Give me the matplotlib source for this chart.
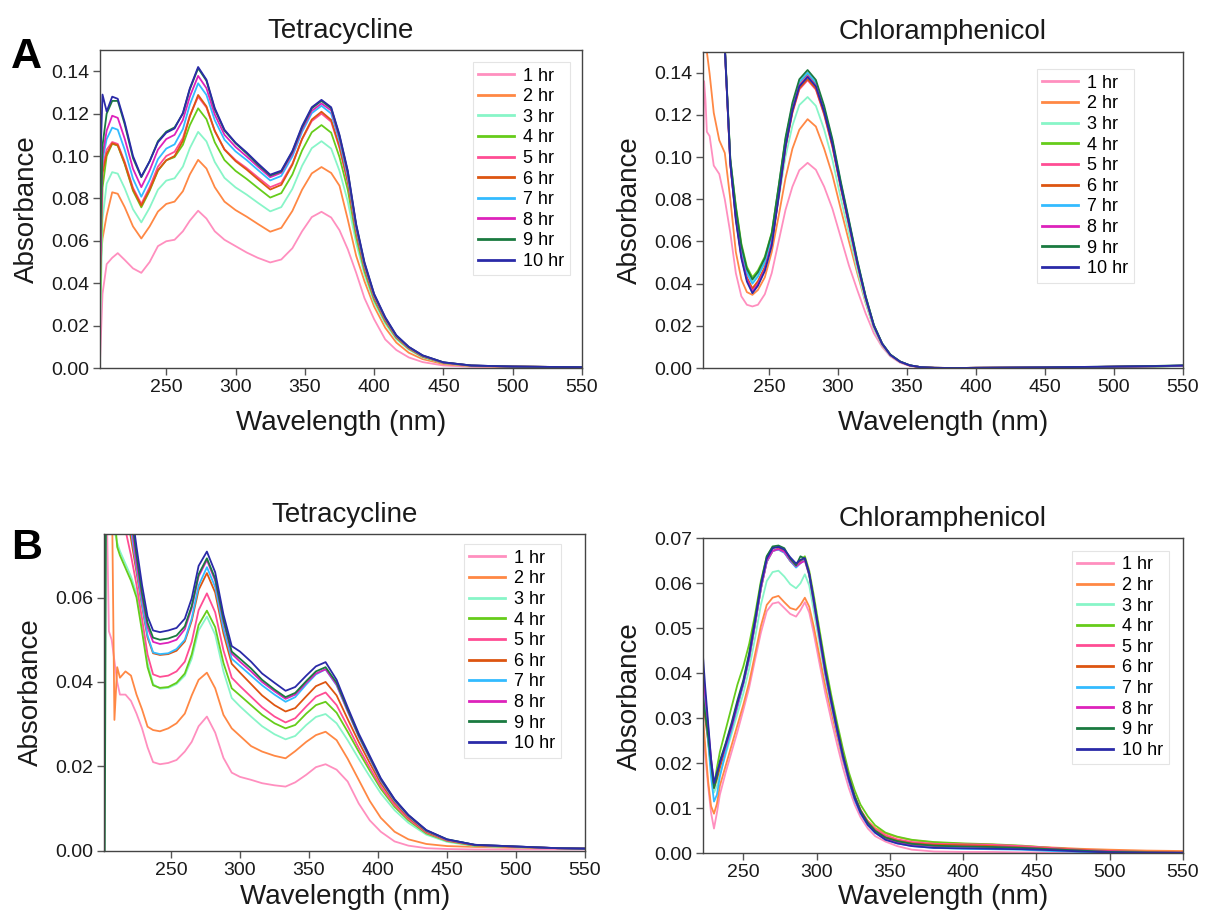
import matplotlib
matplotlib.use("Agg")
import matplotlib.pyplot as plt
from matplotlib.ticker import FormatStrFormatter

plt.rcParams['font.family'] = ['Liberation Sans', 'DejaVu Sans']

hours = ['1 hr', '2 hr', '3 hr', '4 hr', '5 hr', '6 hr', '7 hr', '8 hr', '9 hr', '10 hr']
colors = ['#ff8fbf', '#ff8844', '#88f5c8', '#66cc1a', '#ff4d94',
          '#dd5511', '#33bbff', '#dd22bb', '#1a7a40', '#2a2aa8']

# --- A, tetracycline ---
tc_a_wl = [202, 204, 207, 211, 215, 220, 226, 232, 238, 244, 250, 256, 262, 267, 273, 279,
           285, 292, 300, 308, 316, 325, 333, 341, 348, 355, 362, 369, 375, 381, 387, 393,
           400, 408, 416, 425, 435, 450, 470, 500, 530, 550]
tc_a_abs = [
    [0.000, 0.035, 0.049, 0.052, 0.0542, 0.051, 0.047, 0.0449, 0.050, 0.0575, 0.0598, 0.0605, 0.0645, 0.0695,
     0.0742, 0.0705, 0.0645, 0.0605, 0.0575, 0.0545, 0.052, 0.0498, 0.0512, 0.0565, 0.0645, 0.0712, 0.0737,
     0.071, 0.065, 0.056, 0.045, 0.033, 0.023, 0.0135, 0.0085, 0.005, 0.0028, 0.0012, 0.0006, 0.0004, 0.0003, 0.0003],
    [0.045, 0.061, 0.072, 0.0829, 0.0822, 0.0759, 0.0668, 0.0611, 0.0668, 0.0738, 0.0774, 0.0785, 0.0834, 0.0913,
     0.0982, 0.0941, 0.0853, 0.0785, 0.0745, 0.0714, 0.068, 0.0643, 0.0661, 0.0741, 0.0841, 0.0918, 0.0948,
     0.092, 0.086, 0.070, 0.053, 0.041, 0.029, 0.019, 0.012, 0.0072, 0.0042, 0.0019, 0.0009, 0.0006, 0.0005, 0.0004],
    [0.012, 0.070, 0.087, 0.0924, 0.0917, 0.0848, 0.0749, 0.0687, 0.0756, 0.0841, 0.0884, 0.0895, 0.095, 0.1037,
     0.1114, 0.1069, 0.0972, 0.0897, 0.0852, 0.0818, 0.078, 0.0739, 0.0759, 0.0845, 0.0954, 0.1037, 0.107,
     0.1035, 0.093, 0.0785, 0.059, 0.0442, 0.031, 0.021, 0.0136, 0.0087, 0.005, 0.0023, 0.001, 0.0007, 0.0005, 0.0004],
    [0.020, 0.085, 0.100, 0.1058, 0.1049, 0.0962, 0.0836, 0.0758, 0.0836, 0.0931, 0.098, 0.0995, 0.1053, 0.1145,
     0.1225, 0.1174, 0.1065, 0.0981, 0.093, 0.0892, 0.085, 0.0804, 0.0825, 0.0913, 0.1026, 0.1112, 0.1146,
     0.111, 0.0995, 0.084, 0.062, 0.0458, 0.0322, 0.0219, 0.0142, 0.0091, 0.0053, 0.0024, 0.0011, 0.0007, 0.0005, 0.0004],
    [0.037, 0.095, 0.103, 0.1066, 0.1057, 0.0973, 0.085, 0.0774, 0.0853, 0.095, 0.100, 0.102, 0.1085, 0.119,
     0.128, 0.1229, 0.1118, 0.1032, 0.0981, 0.0943, 0.090, 0.0853, 0.0874, 0.0964, 0.1079, 0.1165, 0.120,
     0.1162, 0.1038, 0.0875, 0.064, 0.0472, 0.0331, 0.0225, 0.0146, 0.0093, 0.0055, 0.0025, 0.0011, 0.0007, 0.0005, 0.0004],
    [0.060, 0.092, 0.101, 0.106, 0.1051, 0.0966, 0.0842, 0.0766, 0.0841, 0.0933, 0.098, 0.100, 0.1072, 0.1187,
     0.1288, 0.1234, 0.1119, 0.103, 0.0976, 0.0936, 0.0891, 0.0842, 0.0864, 0.0959, 0.1081, 0.1172, 0.1209,
     0.117, 0.1045, 0.088, 0.0645, 0.0475, 0.0333, 0.0227, 0.0147, 0.0094, 0.0055, 0.0025, 0.0011, 0.0007, 0.0005, 0.0004],
    [0.070, 0.098, 0.108, 0.1134, 0.1124, 0.103, 0.0893, 0.0808, 0.0887, 0.0985, 0.1035, 0.1055, 0.1127, 0.1242,
     0.1343, 0.1288, 0.1169, 0.1077, 0.1022, 0.0981, 0.0935, 0.0885, 0.0906, 0.0998, 0.1114, 0.1202, 0.1237,
     0.120, 0.107, 0.090, 0.066, 0.0485, 0.034, 0.0232, 0.015, 0.0097, 0.0057, 0.0026, 0.0012, 0.0007, 0.0005, 0.0004],
    [0.035, 0.100, 0.112, 0.119, 0.118, 0.1082, 0.094, 0.0853, 0.0932, 0.103, 0.108, 0.110, 0.117, 0.128,
     0.1378, 0.132, 0.1196, 0.110, 0.1043, 0.0998, 0.0951, 0.090, 0.0921, 0.1011, 0.1126, 0.1213, 0.1248,
     0.1215, 0.1085, 0.0915, 0.067, 0.049, 0.0343, 0.0234, 0.0151, 0.0098, 0.0058, 0.0026, 0.0012, 0.0007, 0.0005, 0.0004],
    [0.047, 0.105, 0.120, 0.126, 0.126, 0.115, 0.099, 0.090, 0.0975, 0.107, 0.1115, 0.1135, 0.120, 0.1315,
     0.1414, 0.1355, 0.122, 0.112, 0.106, 0.1012, 0.096, 0.0908, 0.0927, 0.102, 0.1135, 0.1225, 0.126,
     0.1225, 0.1095, 0.0925, 0.0675, 0.0495, 0.0347, 0.0237, 0.0153, 0.0099, 0.0059, 0.0027, 0.0012, 0.0007, 0.0005, 0.0004],
    [0.088, 0.129, 0.121, 0.128, 0.127, 0.116, 0.100, 0.0903, 0.0975, 0.1065, 0.111, 0.113, 0.1203, 0.1319,
     0.142, 0.136, 0.1226, 0.1124, 0.1063, 0.1017, 0.0966, 0.0912, 0.0931, 0.1024, 0.1141, 0.123, 0.1265,
     0.123, 0.110, 0.093, 0.068, 0.050, 0.035, 0.024, 0.0155, 0.010, 0.006, 0.0027, 0.0012, 0.0007, 0.0005, 0.0004],
]

# --- A, chloramphenicol ---
cm_a_wl = [202, 203, 204, 205, 207, 210, 214, 218, 222, 226, 230, 234, 238, 242, 247, 252, 257, 262,
           267, 272, 278, 284, 290, 296, 302, 308, 314, 320, 326, 332, 338, 345, 352, 360, 370, 385,
           400, 450, 500, 530, 550]
cm_a_abs = [
    [0.088, 0.136, 0.127, 0.112, 0.110, 0.096, 0.092, 0.080, 0.064, 0.045, 0.034, 0.030, 0.0292, 0.030,
     0.035, 0.045, 0.060, 0.075, 0.086, 0.0938, 0.0973, 0.094, 0.086, 0.0755, 0.062, 0.0485, 0.037, 0.026,
     0.0165, 0.010, 0.0055, 0.0025, 0.001, 0.0003, 0.0001, 0.0, 0.0001, 0.0003, 0.0006, 0.0008, 0.0010],
    [0.20, 0.20, 0.160, 0.150, 0.1395, 0.121, 0.108, 0.102, 0.080, 0.055, 0.042, 0.036, 0.0347, 0.037,
     0.043, 0.055, 0.072, 0.090, 0.104, 0.113, 0.118, 0.1145, 0.104, 0.0915, 0.0755, 0.060, 0.045, 0.031,
     0.019, 0.011, 0.006, 0.003, 0.0012, 0.0004, 0.0001, 0.0, 0.0001, 0.0003, 0.0006, 0.0008, 0.0010],
    [0.20, 0.20, 0.20, 0.20, 0.20, 0.20, 0.20, 0.152, 0.098, 0.075, 0.057, 0.046, 0.041, 0.044,
     0.0499, 0.0603, 0.0799, 0.1003, 0.1149, 0.1247, 0.1285, 0.1243, 0.1131, 0.0987, 0.0806, 0.0637, 0.0465, 0.0312,
     0.0186, 0.0107, 0.0058, 0.0028, 0.0012, 0.0004, 0.0001, 0.0, 0.0001, 0.0002, 0.0005, 0.0007, 0.0009],
    [0.20, 0.20, 0.20, 0.20, 0.20, 0.20, 0.20, 0.153, 0.099, 0.077, 0.059, 0.048, 0.043, 0.0463,
     0.0528, 0.0642, 0.0858, 0.1084, 0.1244, 0.1353, 0.1395, 0.1349, 0.1228, 0.1071, 0.0875, 0.0692, 0.0505, 0.0339,
     0.0202, 0.0116, 0.0063, 0.0031, 0.0013, 0.0004, 0.0001, 0.0, 0.0001, 0.0003, 0.0006, 0.0008, 0.0010],
    [0.20, 0.20, 0.20, 0.20, 0.20, 0.20, 0.20, 0.152, 0.097, 0.071, 0.053, 0.042, 0.037, 0.0404,
     0.0471, 0.0589, 0.0812, 0.1045, 0.121, 0.1321, 0.1365, 0.132, 0.1201, 0.1048, 0.0856, 0.0677, 0.0494, 0.0332,
     0.0198, 0.0113, 0.0061, 0.003, 0.0012, 0.0004, 0.0001, 0.0, 0.0001, 0.0003, 0.0006, 0.0009, 0.0011],
    [0.20, 0.20, 0.20, 0.20, 0.20, 0.20, 0.20, 0.152, 0.097, 0.072, 0.054, 0.043, 0.0378, 0.0412,
     0.0479, 0.0596, 0.0818, 0.105, 0.1215, 0.1326, 0.137, 0.1325, 0.1206, 0.1052, 0.0859, 0.068, 0.0496, 0.0333,
     0.0199, 0.0114, 0.0062, 0.003, 0.0012, 0.0004, 0.0001, 0.0, 0.0001, 0.0002, 0.0006, 0.0008, 0.0010],
    [0.20, 0.20, 0.20, 0.20, 0.20, 0.20, 0.20, 0.152, 0.098, 0.074, 0.056, 0.045, 0.040, 0.0434,
     0.0502, 0.062, 0.0844, 0.1078, 0.1244, 0.1356, 0.140, 0.1354, 0.1232, 0.1075, 0.0878, 0.0694, 0.0507, 0.034,
     0.0203, 0.0116, 0.0063, 0.0031, 0.0013, 0.0004, 0.0001, 0.0, 0.0001, 0.0003, 0.0006, 0.0008, 0.0010],
    [0.20, 0.20, 0.20, 0.20, 0.20, 0.20, 0.20, 0.152, 0.097, 0.071, 0.053, 0.042, 0.0363, 0.0398,
     0.0467, 0.0588, 0.0817, 0.1056, 0.1226, 0.134, 0.1385, 0.1339, 0.1219, 0.1064, 0.0868, 0.0687, 0.0501, 0.0337,
     0.0201, 0.0115, 0.0062, 0.003, 0.0012, 0.0004, 0.0001, 0.0, 0.0001, 0.0003, 0.0006, 0.0009, 0.0011],
    [0.20, 0.20, 0.20, 0.20, 0.20, 0.20, 0.20, 0.153, 0.099, 0.076, 0.058, 0.047, 0.042, 0.0454,
     0.0521, 0.0638, 0.0861, 0.1093, 0.1258, 0.1369, 0.1413, 0.1366, 0.1243, 0.1085, 0.0886, 0.0701, 0.0512, 0.0343,
     0.0205, 0.0117, 0.0064, 0.0031, 0.0013, 0.0004, 0.0001, 0.0, 0.0001, 0.0003, 0.0007, 0.0010, 0.0013],
    [0.20, 0.20, 0.20, 0.20, 0.20, 0.20, 0.20, 0.152, 0.097, 0.070, 0.052, 0.041, 0.0355, 0.039,
     0.046, 0.058, 0.081, 0.105, 0.122, 0.1335, 0.138, 0.1335, 0.1215, 0.106, 0.0865, 0.0685, 0.050, 0.0335,
     0.020, 0.0115, 0.0062, 0.003, 0.0013, 0.0004, 0.0001, 0.0, 0.0001, 0.0003, 0.0007, 0.0009, 0.0012],
]

# --- B, tetracycline ---
tc_b_wl = [202, 203, 205, 207, 209, 211, 213, 217, 221, 225, 229, 233, 237, 242, 248, 254, 260, 265,
           270, 276, 282, 288, 294, 300, 308, 316, 325, 333, 340, 348, 355, 362, 370, 378, 386, 394,
           402, 412, 422, 435, 450, 470, 500, 530, 550]
tc_b_abs = [
    [0.09, 0.09, 0.052, 0.050, 0.045, 0.040, 0.037, 0.037, 0.0355, 0.0325, 0.029, 0.0245, 0.021, 0.0205, 0.0208,
     0.0215, 0.0235, 0.0258, 0.0295, 0.0318, 0.028, 0.022, 0.0185, 0.0175, 0.0168, 0.016, 0.0155, 0.0152, 0.0162,
     0.018, 0.0198, 0.0205, 0.0192, 0.0164, 0.0112, 0.0072, 0.0045, 0.0022, 0.0012, 0.0006, 0.0004, 0.0003,
     0.0003, 0.0003, 0.0003],
    [0.09, 0.09, 0.09, 0.09, 0.031, 0.0435, 0.041, 0.0425, 0.0415, 0.037, 0.0335, 0.0294, 0.0286, 0.0283, 0.029,
     0.0302, 0.0325, 0.0368, 0.0405, 0.0422, 0.0385, 0.0322, 0.029, 0.0272, 0.0248, 0.0235, 0.0225, 0.0219, 0.0236,
     0.0258, 0.0274, 0.0282, 0.0262, 0.0218, 0.0168, 0.0118, 0.0078, 0.0045, 0.0027, 0.0016, 0.0011, 0.0009,
     0.0007, 0.0006, 0.0005],
    [0.09, 0.09, 0.09, 0.082, 0.076, 0.073, 0.071, 0.068, 0.065, 0.061, 0.053, 0.0445, 0.0395, 0.0384, 0.0386,
     0.0395, 0.0415, 0.0455, 0.0522, 0.0555, 0.0512, 0.0425, 0.0362, 0.0342, 0.0318, 0.0295, 0.0276, 0.0264, 0.0272,
     0.0298, 0.0317, 0.0324, 0.0302, 0.0262, 0.0218, 0.0176, 0.0136, 0.0096, 0.0066, 0.0038, 0.0021, 0.0011,
     0.0008, 0.0006, 0.0005],
    [0.09, 0.09, 0.09, 0.09, 0.080, 0.072, 0.070, 0.067, 0.064, 0.060, 0.052, 0.0435, 0.0392, 0.0386, 0.0388,
     0.0398, 0.042, 0.0465, 0.0535, 0.0569, 0.053, 0.0445, 0.0385, 0.0368, 0.0345, 0.0322, 0.0302, 0.029, 0.0298,
     0.0325, 0.0345, 0.0353, 0.0327, 0.0282, 0.0235, 0.019, 0.0147, 0.0104, 0.0072, 0.0041, 0.0023, 0.0012,
     0.0009, 0.0006, 0.0005],
    [0.09, 0.09, 0.09, 0.09, 0.09, 0.086, 0.082, 0.076, 0.070, 0.063, 0.055, 0.0465, 0.0418, 0.0412, 0.0415,
     0.0425, 0.0448, 0.0495, 0.057, 0.061, 0.0565, 0.0475, 0.041, 0.039, 0.0365, 0.034, 0.0318, 0.0304, 0.0314,
     0.0342, 0.0365, 0.0375, 0.0345, 0.0295, 0.0244, 0.0197, 0.0152, 0.0108, 0.0075, 0.0043, 0.0024, 0.0013,
     0.0009, 0.0006, 0.0005],
    [0.09, 0.09, 0.09, 0.09, 0.09, 0.09, 0.088, 0.082, 0.074, 0.066, 0.058, 0.0505, 0.0468, 0.0464, 0.0466,
     0.0474, 0.0496, 0.0545, 0.0618, 0.0658, 0.0612, 0.0515, 0.0443, 0.0422, 0.0395, 0.0368, 0.0345, 0.033, 0.0338,
     0.0366, 0.039, 0.040, 0.0368, 0.0312, 0.0258, 0.0208, 0.016, 0.0114, 0.0079, 0.0045, 0.0025, 0.0013,
     0.0009, 0.0006, 0.0005],
    [0.09, 0.09, 0.09, 0.09, 0.09, 0.09, 0.09, 0.085, 0.076, 0.067, 0.0585, 0.051, 0.047, 0.0466, 0.0468,
     0.0478, 0.050, 0.055, 0.0628, 0.0672, 0.0625, 0.0527, 0.0455, 0.0438, 0.0415, 0.0392, 0.037, 0.0353, 0.0364,
     0.0394, 0.0418, 0.043, 0.0392, 0.033, 0.027, 0.0218, 0.0166, 0.0118, 0.0082, 0.0047, 0.0026, 0.0014,
     0.001, 0.0006, 0.0005],
    [0.09, 0.09, 0.09, 0.09, 0.09, 0.09, 0.09, 0.088, 0.078, 0.068, 0.060, 0.053, 0.0495, 0.049, 0.0493,
     0.050, 0.0525, 0.0575, 0.065, 0.0689, 0.064, 0.0543, 0.0467, 0.0448, 0.0425, 0.040, 0.0378, 0.036, 0.037,
     0.0398, 0.042, 0.043, 0.0394, 0.0332, 0.0272, 0.022, 0.0168, 0.012, 0.0083, 0.0048, 0.0026, 0.0014,
     0.001, 0.0006, 0.0005],
    [0.0, 0.09, 0.09, 0.09, 0.09, 0.09, 0.09, 0.09, 0.080, 0.070, 0.061, 0.054, 0.0505, 0.050, 0.0503,
     0.051, 0.0532, 0.058, 0.0655, 0.0693, 0.0645, 0.0548, 0.0472, 0.0455, 0.0432, 0.0405, 0.0382, 0.0364, 0.0374,
     0.0402, 0.0425, 0.0435, 0.0398, 0.0335, 0.0274, 0.0222, 0.017, 0.0121, 0.0084, 0.0048, 0.0027, 0.0014,
     0.001, 0.0006, 0.0005],
    [0.09, 0.09, 0.09, 0.09, 0.09, 0.09, 0.09, 0.09, 0.082, 0.072, 0.063, 0.0555, 0.0522, 0.0518, 0.0522,
     0.0528, 0.055, 0.0598, 0.0675, 0.0709, 0.066, 0.056, 0.0485, 0.0472, 0.0448, 0.042, 0.0398, 0.0379, 0.0388,
     0.0415, 0.0437, 0.0447, 0.0405, 0.034, 0.0278, 0.0225, 0.0172, 0.0122, 0.0085, 0.0049, 0.0027, 0.0014,
     0.001, 0.0006, 0.0005],
]

# --- B, chloramphenicol ---
cm_b_wl = [222, 224, 226, 228, 230, 232, 234, 238, 242, 246, 250, 254, 258, 262, 266, 270, 274, 278,
           282, 286, 289, 292, 295, 298, 302, 306, 310, 314, 318, 322, 326, 330, 335, 340, 347, 355,
           365, 380, 400, 420, 440, 460, 480, 500, 525, 550]
cm_b_abs = [
    [0.030, 0.022, 0.015, 0.009, 0.0055, 0.009, 0.013, 0.018, 0.0225, 0.027, 0.0318, 0.0368, 0.043, 0.049,
     0.0538, 0.0555, 0.0558, 0.0545, 0.0532, 0.0526, 0.054, 0.0558, 0.0535, 0.049, 0.0422, 0.0355, 0.0297, 0.0242,
     0.019, 0.0145, 0.0108, 0.008, 0.0055, 0.0038, 0.0026, 0.0016, 0.0008, 0.0004, 0.0003, 0.0003, 0.0002,
     0.0002, 0.0001, 0.0001, 0.0001, 0.0001],
    [0.032, 0.024, 0.016, 0.0105, 0.0088, 0.011, 0.015, 0.0195, 0.024, 0.0285, 0.033, 0.038, 0.0442, 0.0505,
     0.0552, 0.0568, 0.0572, 0.0558, 0.0545, 0.0541, 0.0552, 0.0568, 0.0548, 0.0505, 0.0438, 0.0372, 0.0315, 0.026,
     0.0207, 0.0162, 0.0123, 0.0095, 0.0072, 0.0056, 0.0044, 0.0036, 0.0029, 0.0024, 0.0021, 0.0019, 0.0016,
     0.0013, 0.001, 0.0008, 0.0006, 0.0005],
    [0.036, 0.031, 0.025, 0.019, 0.0135, 0.015, 0.0175, 0.022, 0.0265, 0.031, 0.0355, 0.041, 0.0478, 0.0552,
     0.0605, 0.0625, 0.0628, 0.0615, 0.0598, 0.0589, 0.060, 0.062, 0.0595, 0.054, 0.0465, 0.039, 0.0328, 0.027,
     0.0212, 0.0163, 0.0122, 0.0092, 0.0066, 0.0049, 0.0036, 0.0028, 0.0022, 0.0018, 0.0016, 0.0015, 0.0012,
     0.0009, 0.0006, 0.0004, 0.0002, 0.0001],
    [0.037, 0.032, 0.026, 0.020, 0.015, 0.019, 0.0225, 0.0275, 0.0325, 0.0375, 0.0415, 0.0465, 0.053, 0.0605,
     0.066, 0.068, 0.068, 0.0672, 0.0655, 0.064, 0.065, 0.066, 0.0628, 0.0575, 0.0497, 0.042, 0.0352, 0.029,
     0.0232, 0.018, 0.014, 0.0108, 0.0082, 0.0062, 0.0046, 0.0037, 0.003, 0.0025, 0.0022, 0.002, 0.0017,
     0.0012, 0.0008, 0.0005, 0.0003, 0.0002],
    [0.043, 0.035, 0.027, 0.020, 0.015, 0.017, 0.0195, 0.0235, 0.028, 0.033, 0.0378, 0.0435, 0.051, 0.0588,
     0.0648, 0.0672, 0.0675, 0.0668, 0.065, 0.0636, 0.0645, 0.0655, 0.062, 0.056, 0.048, 0.0402, 0.0337, 0.0277,
     0.022, 0.017, 0.0128, 0.0097, 0.007, 0.0053, 0.004, 0.0031, 0.0025, 0.0021, 0.002, 0.0019, 0.0016,
     0.0012, 0.0008, 0.0005, 0.0003, 0.0002],
    [0.035, 0.030, 0.025, 0.019, 0.0145, 0.0165, 0.019, 0.0235, 0.028, 0.033, 0.0378, 0.0435, 0.051, 0.0588,
     0.0648, 0.0672, 0.0677, 0.067, 0.065, 0.0638, 0.0648, 0.0654, 0.062, 0.0562, 0.0482, 0.0403, 0.0338, 0.0277,
     0.0218, 0.0168, 0.0126, 0.0095, 0.0068, 0.005, 0.0036, 0.0028, 0.0022, 0.0019, 0.0018, 0.0016, 0.0013,
     0.001, 0.0007, 0.0004, 0.0003, 0.0002],
    [0.040, 0.033, 0.025, 0.017, 0.0115, 0.013, 0.017, 0.0225, 0.0275, 0.0325, 0.0375, 0.0432, 0.0508, 0.0588,
     0.0648, 0.0672, 0.0675, 0.0668, 0.065, 0.0635, 0.0645, 0.0652, 0.0618, 0.0558, 0.0478, 0.0398, 0.0332, 0.027,
     0.021, 0.016, 0.0118, 0.0088, 0.0062, 0.0045, 0.0031, 0.0022, 0.0016, 0.0012, 0.001, 0.0009, 0.0008,
     0.0005, 0.0003, 0.0002, 0.0001, 0.0001],
    [0.042, 0.035, 0.028, 0.021, 0.0155, 0.0175, 0.020, 0.0238, 0.028, 0.033, 0.0378, 0.0435, 0.051, 0.059,
     0.065, 0.0672, 0.0676, 0.067, 0.0652, 0.0638, 0.0645, 0.065, 0.0618, 0.056, 0.048, 0.040, 0.0335, 0.0272,
     0.0213, 0.0163, 0.0122, 0.009, 0.0064, 0.0047, 0.0033, 0.0025, 0.0019, 0.0016, 0.0015, 0.0014, 0.0012,
     0.0009, 0.0006, 0.0004, 0.0002, 0.0001],
    [0.036, 0.031, 0.026, 0.020, 0.0145, 0.017, 0.0205, 0.0245, 0.029, 0.034, 0.0385, 0.0445, 0.052, 0.060,
     0.066, 0.0682, 0.0684, 0.0678, 0.0655, 0.064, 0.066, 0.0655, 0.062, 0.0565, 0.0487, 0.041, 0.0342, 0.028,
     0.022, 0.017, 0.0127, 0.0095, 0.0068, 0.005, 0.0035, 0.0027, 0.0021, 0.0017, 0.0015, 0.0014, 0.0012,
     0.0009, 0.0006, 0.0003, 0.0002, 0.0001],
    [0.046, 0.037, 0.029, 0.021, 0.0156, 0.018, 0.020, 0.0242, 0.0285, 0.0335, 0.038, 0.044, 0.0515, 0.0595,
     0.0655, 0.0678, 0.0681, 0.0675, 0.0658, 0.0644, 0.0652, 0.0656, 0.0622, 0.0565, 0.0485, 0.0405, 0.0338, 0.0275,
     0.0215, 0.0165, 0.0122, 0.009, 0.0063, 0.0046, 0.003, 0.0022, 0.0016, 0.0012, 0.0011, 0.001, 0.0009,
     0.0007, 0.0004, 0.0002, 0.0001, 0.0001],
]

ink = '#1a1a1a'
fig = plt.figure(figsize=(12.05, 9.18), dpi=100)


def spectra_panel(rect, wl, spectra, title, xlim, ylim, yticks, leg_xy, xpad):
    ax = fig.add_axes(rect)
    for label, color, absorb in zip(hours, colors, spectra):
        ax.plot(wl, absorb, color=color, lw=1.3, label=label)
    ax.set_xlim(*xlim)
    ax.set_ylim(*ylim)
    ax.set_xticks([250, 300, 350, 400, 450, 500, 550])
    ax.set_yticks(yticks)
    ax.yaxis.set_major_formatter(FormatStrFormatter('%.2f'))
    ax.tick_params(direction='out', length=5, width=1, colors='#555555',
                   labelcolor=ink, labelsize=14, pad=3)
    for sp in ax.spines.values():
        sp.set_color('#444444')
        sp.set_linewidth(1.0)
    ax.set_title(title, fontsize=20, color=ink, pad=9)
    ax.set_xlabel('Wavelength (nm)', fontsize=20, color=ink, labelpad=xpad)
    ax.set_ylabel('Absorbance', fontsize=20, color=ink, labelpad=8)
    leg = ax.legend(loc='upper right', bbox_to_anchor=leg_xy, fontsize=13,
                    frameon=True, fancybox=False, framealpha=1, edgecolor='#e4e4e4',
                    handlelength=2.0, handletextpad=0.5, labelspacing=0.2,
                    borderpad=0.3, borderaxespad=0.0)
    leg.get_frame().set_linewidth(0.8)
    for line in leg.get_lines():
        line.set_linewidth(2.0)
    return ax


a_ticks = [0.00, 0.02, 0.04, 0.06, 0.08, 0.10, 0.12, 0.14]
spectra_panel([0.0830, 0.5991, 0.4000, 0.3464], tc_a_wl, tc_a_abs, 'Tetracycline',
              (202.2, 550), (0, 0.15), a_ticks, (0.975, 0.962), 10)
spectra_panel([0.5834, 0.5991, 0.3983, 0.3446], cm_a_wl, cm_a_abs, 'Chloramphenicol',
              (202.2, 550), (0, 0.15), a_ticks, (0.898, 0.944), 10)
spectra_panel([0.0866, 0.0733, 0.3989, 0.3447], tc_b_wl, tc_b_abs, 'Tetracycline',
              (201.7, 550), (0, 0.075), [0.00, 0.02, 0.04, 0.06], (0.950, 0.968), 4)
spectra_panel([0.5834, 0.0705, 0.3983, 0.3431], cm_b_wl, cm_b_abs, 'Chloramphenicol',
              (222.5, 550), (0, 0.07), [0.00, 0.01, 0.02, 0.03, 0.04, 0.05, 0.06, 0.07],
              (0.971, 0.960), 2)

fig.text(26 / 1205, 1 - 57 / 918, 'A', fontsize=31, fontweight='bold', ha='center', va='center', color='black')
fig.text(27 / 1205, 1 - 548 / 918, 'B', fontsize=31, fontweight='bold', ha='center', va='center', color='black')

fig.savefig('out.png', dpi=100)
